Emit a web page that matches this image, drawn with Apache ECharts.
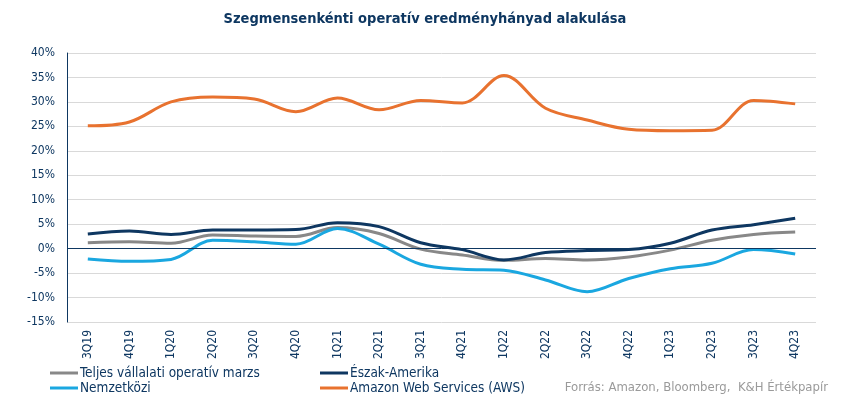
<!DOCTYPE html>
<html>
<head>
<meta charset="utf-8">
<script src="https://cdn.jsdelivr.net/npm/echarts@6/dist/echarts.min.js"></script>
<style>
  html, body { margin: 0; padding: 0; background: #fff; }
  #chart { width: 850px; height: 398px; }
</style>
</head>
<body>
<div id="chart"></div>
<script>
// negyedevek
var quarters = ['3Q19','4Q19','1Q20','2Q20','3Q20','4Q20','1Q21','2Q21','3Q21','4Q21',
                '1Q22','2Q22','3Q22','4Q22','1Q23','2Q23','3Q23','4Q23'];
// operativ marzs, %
var totalMargin = [1.2, 1.4, 1.1, 2.8, 2.6, 2.5, 4.3, 3.1, -0.1, -1.3, -2.4, -2.0, -2.3, -1.7, -0.3, 1.7, 2.9, 3.4];
var northAmerica = [3.0, 3.6, 2.9, 3.8, 3.8, 3.9, 5.3, 4.5, 1.2, -0.2, -2.3, -0.8, -0.4, -0.2, 1.1, 3.8, 4.9, 6.2];
var international = [-2.1, -2.6, -2.2, 1.7, 1.4, 0.9, 4.1, 0.9, -3.2, -4.2, -4.4, -6.4, -8.8, -6.1, -4.1, -3.0, -0.2, -1.1];
var aws = [25.1, 25.9, 30.0, 31.0, 30.6, 28.0, 30.8, 28.4, 30.3, 29.8, 35.4, 28.7, 26.3, 24.4, 24.1, 24.2, 30.3, 29.6];
var yTicks = { min: -15, max: 40, step: 5 };

var navy = '#0e3761';
var font = '"DejaVu Sans Condensed", "DejaVu Sans", sans-serif';

function lineSeries(name, vals, color) {
    return {
        name: name,
        type: 'line',
        data: vals,
        smooth: 0.35,
        symbol: 'none',
        lineStyle: { color: color, width: 3 },
        itemStyle: { color: color }
    };
}

var series = [
    lineSeries('Teljes vállalati operatív marzs', totalMargin, '#888888'),
    lineSeries('Észak-Amerika', northAmerica, navy),
    lineSeries('Nemzetközi', international, '#1aa7e0'),
    lineSeries('Amazon Web Services (AWS)', aws, '#e8722f')
];
// nulla vonal
series[0].markLine = {
    silent: true,
    symbol: 'none',
    label: { show: false },
    lineStyle: { color: navy, width: 1, type: 'solid' },
    data: [{ yAxis: 0 }]
};

function legendBox(left, names) {
    return {
        orient: 'vertical',
        left: left,
        top: 366,
        padding: 0,
        itemWidth: 28,
        itemHeight: 3,
        itemGap: 1,
        icon: 'rect',
        textStyle: { fontFamily: font, fontSize: 13.5, color: navy, padding: [0, 0, 0, -3] },
        data: names
    };
}

var chart = echarts.init(document.getElementById('chart'), null, { renderer: 'canvas' });

chart.setOption({
    animation: false,
    textStyle: { fontFamily: font },
    title: {
        text: 'Szegmensenkénti operatív eredményhányad alakulása',
        left: 'center',
        top: 7,
        textStyle: { fontFamily: font, fontSize: 14.5, fontWeight: 'bold', color: navy }
    },
    grid: { left: 67, right: 34, top: 53, bottom: 76 },
    legend: [
        legendBox(50, ['Teljes vállalati operatív marzs', 'Nemzetközi']),
        legendBox(320, ['Észak-Amerika', 'Amazon Web Services (AWS)'])
    ],
    graphic: [{
        type: 'text',
        right: 22,
        top: 381,
        style: {
            text: 'Forrás: Amazon, Bloomberg,  K&H Értékpapír',
            fontFamily: font,
            fontSize: 13,
            fill: '#9a9a9a'
        }
    }],
    xAxis: {
        type: 'category',
        data: quarters,
        boundaryGap: true,
        axisLine: { show: false, onZero: false },
        axisTick: { show: false },
        axisLabel: { rotate: 90, margin: 8, fontSize: 12, color: navy, fontFamily: font }
    },
    yAxis: {
        type: 'value',
        min: yTicks.min,
        max: yTicks.max,
        interval: yTicks.step,
        axisLine: { show: true, lineStyle: { color: navy, width: 1 } },
        axisTick: { show: false },
        splitLine: { lineStyle: { color: '#d9d9d9', width: 1 } },
        axisLabel: { formatter: '{value}%', margin: 12, fontSize: 12, color: navy, fontFamily: font }
    },
    series: series
});
</script>
</body>
</html>
